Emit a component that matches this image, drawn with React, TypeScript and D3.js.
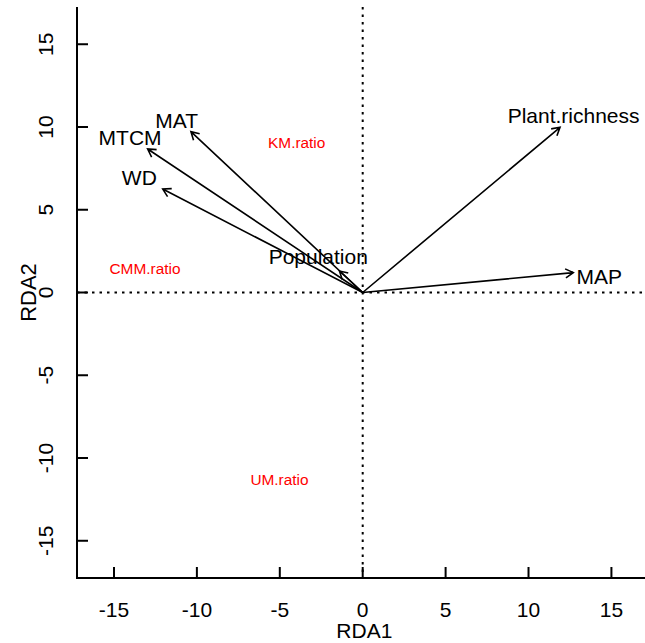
import React, { useRef, useEffect } from 'react';
import * as d3 from 'd3';

// biplot arrows (RDA1, RDA2 scores) and where their labels sit
const arrowNames = ['MAT', 'MTCM', 'WD', 'Population', 'Plant.richness', 'MAP'];
const arrowRda1 = [-10.36, -12.97, -12.06, -1.4, 11.9, 12.7];
const arrowRda2 = [9.72, 8.67, 6.25, 1.3, 9.98, 1.2];
const labelRda1 = [-11.22, -14.03, -13.47, -2.68, 12.72, 14.27];
const labelRda2 = [10.37, 9.35, 6.94, 2.16, 10.66, 0.94];

// response variables (red text)
const responseNames = ['KM.ratio', 'CMM.ratio', 'UM.ratio'];
const responseRda1 = [-3.98, -13.13, -5.02];
const responseRda2 = [9.07, 1.46, -11.33];

const ticks = [-15, -10, -5, 0, 5, 10, 15];

const W = 645;
const H = 643;

const App = () => {
  const svgRef = useRef<SVGSVGElement>(null);

  useEffect(() => {
    const svg = d3.select(svgRef.current);
    svg.selectAll('*').remove();

    const x = d3.scaleLinear().domain([-17.23, 17.23]).range([77, 648.4]);
    const y = d3.scaleLinear().domain([-17.25, 17.25]).range([578, 7]);
    const font = 'Liberation Sans, Arial, sans-serif';

    // dotted zero lines
    svg.append('line')
      .attr('x1', x(0)).attr('x2', x(0))
      .attr('y1', y(17.25)).attr('y2', y(-17.25))
      .attr('stroke', '#000').attr('stroke-width', 2)
      .attr('stroke-dasharray', '2.5,5');
    svg.append('line')
      .attr('x1', x(-17.23)).attr('x2', x(17.23))
      .attr('y1', y(0)).attr('y2', y(0))
      .attr('stroke', '#000').attr('stroke-width', 2)
      .attr('stroke-dasharray', '2.5,5');

    // arrows
    const headLen = 9;
    const headAng = Math.PI / 6;
    arrowNames.forEach((name, i) => {
      const x0 = x(0), y0 = y(0);
      const x1 = x(arrowRda1[i]), y1 = y(arrowRda2[i]);
      const a = Math.atan2(y1 - y0, x1 - x0);
      const path = d3.path();
      path.moveTo(x0, y0);
      path.lineTo(x1, y1);
      path.moveTo(x1 - headLen * Math.cos(a - headAng), y1 - headLen * Math.sin(a - headAng));
      path.lineTo(x1, y1);
      path.lineTo(x1 - headLen * Math.cos(a + headAng), y1 - headLen * Math.sin(a + headAng));
      svg.append('path')
        .attr('d', path.toString())
        .attr('fill', 'none')
        .attr('stroke', '#000')
        .attr('stroke-width', 1.6);

      svg.append('text')
        .attr('x', x(labelRda1[i]))
        .attr('y', y(labelRda2[i]))
        .attr('dy', '0.35em')
        .attr('text-anchor', 'middle')
        .style('font-family', font)
        .style('font-size', '21px')
        .text(name);
    });

    // response labels
    responseNames.forEach((name, i) => {
      svg.append('text')
        .attr('x', x(responseRda1[i]))
        .attr('y', y(responseRda2[i]))
        .attr('dy', '0.35em')
        .attr('text-anchor', 'middle')
        .attr('fill', '#ff0000')
        .style('font-family', font)
        .style('font-size', '15.4px')
        .text(name);
    });

    // L-shaped frame
    svg.append('path')
      .attr('d', `M${x(-17.23)},${y(17.25)}V${y(-17.25)}H${W}`)
      .attr('fill', 'none')
      .attr('stroke', '#000')
      .attr('stroke-width', 2);

    // x axis ticks (inward)
    const xAxis = svg.append('g').attr('transform', `translate(0,${y(-17.25)})`);
    xAxis.selectAll('line').data(ticks).enter().append('line')
      .attr('x1', d => x(d)).attr('x2', d => x(d))
      .attr('y1', 0).attr('y2', -11)
      .attr('stroke', '#000').attr('stroke-width', 2);
    xAxis.selectAll('text').data(ticks).enter().append('text')
      .attr('x', d => x(d)).attr('y', 39)
      .attr('text-anchor', 'middle')
      .style('font-family', font)
      .style('font-size', '21px')
      .text(d => String(d));

    // y axis ticks (inward)
    const yAxis = svg.append('g').attr('transform', `translate(${x(-17.23)},0)`);
    yAxis.selectAll('line').data(ticks).enter().append('line')
      .attr('y1', d => y(d)).attr('y2', d => y(d))
      .attr('x1', 0).attr('x2', 11)
      .attr('stroke', '#000').attr('stroke-width', 2);
    yAxis.selectAll('text').data(ticks).enter().append('text')
      .attr('transform', d => `translate(-24,${y(d)})rotate(-90)`)
      .attr('text-anchor', 'middle')
      .style('font-family', font)
      .style('font-size', '21px')
      .text(d => String(d));

    // axis titles
    svg.append('text')
      .attr('x', x(0) + (x(1) - x(0)) * 0.1)
      .attr('y', 638)
      .attr('text-anchor', 'middle')
      .style('font-family', font)
      .style('font-size', '21px')
      .text('RDA1');
    svg.append('text')
      .attr('transform', `translate(36,${y(0)})rotate(-90)`)
      .attr('text-anchor', 'middle')
      .style('font-family', font)
      .style('font-size', '22px')
      .text('RDA2');
  }, []);

  return (
    <svg
      ref={svgRef}
      width={W}
      height={H}
      style={{ position: 'absolute', left: 0, top: 0, background: '#fff' }}
    />
  );
};

export default App;
